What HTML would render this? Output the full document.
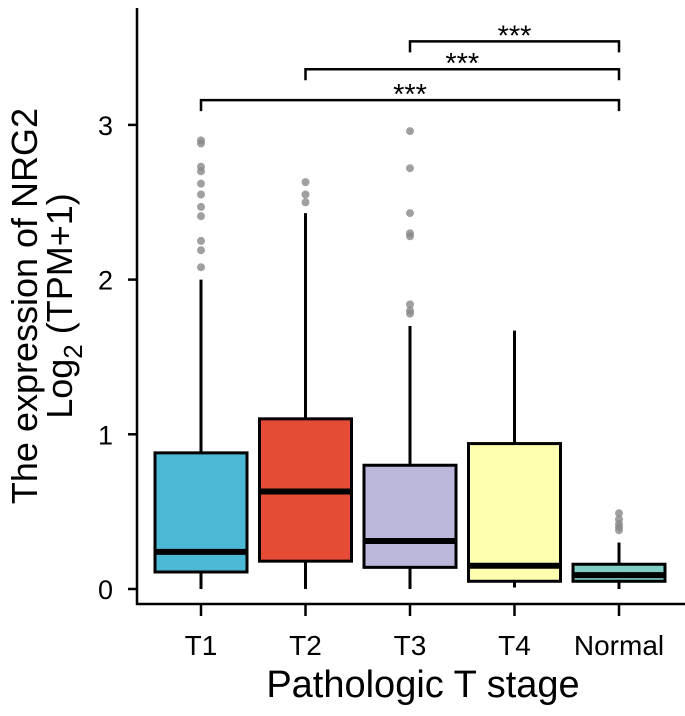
<!DOCTYPE html>
<html><head><meta charset="utf-8"><style>
html,body{margin:0;padding:0;background:#fff;}
svg text{font-family:"Liberation Sans",Arial,sans-serif;}
</style></head><body>
<svg id="chart" width="685" height="711" xmlns="http://www.w3.org/2000/svg"></svg>
<script>
const categories=["T1","T2","T3","T4","Normal"];
const colors=["#4BB8D6","#E64B35","#BBB8DB","#FFFFB0","#7FCDC4"];
const q1=[0.11,0.18,0.14,0.05,0.05];
const medians=[0.24,0.63,0.31,0.15,0.09];
const q3=[0.88,1.10,0.80,0.94,0.16];
const whiskLo=[0,0,0,0.01,0];
const whiskHi=[2.0,2.43,1.70,1.67,0.30];
const outliers=[[2.90,2.88,2.73,2.70,2.62,2.55,2.47,2.41,2.25,2.19,2.08],[2.63,2.55,2.50],[2.96,2.72,2.43,2.30,2.28,1.84,1.80,1.78],[],[0.49,0.45,0.42,0.40,0.38]];
const yTicks=[0,1,2,3];
const brackets=[[2,4,3.54],[1,4,3.36],[0,4,3.16]];
const svg=document.getElementById('chart');
const NS='http://www.w3.org/2000/svg';
function y(v){return 589-v*154.7;}
function x(i){return 201+i*104.5;}
function mk(t,a,p){const e=document.createElementNS(NS,t);for(const k in a)e.setAttribute(k,a[k]);(p||svg).appendChild(e);return e;}
let ax=mk('line',{x1:137,y1:8,x2:137,y2:605,stroke:'#000','stroke-width':2.5});


ax=mk('line',{x1:136,y1:604,x2:685,y2:604,stroke:'#000','stroke-width':2.5});


yTicks.forEach(v=>{
 mk('line',{x1:128,y1:y(v),x2:137,y2:y(v),stroke:'#000','stroke-width':2.5});
 const t=mk('text',{x:113,y:y(v)+10,'font-size':27,'text-anchor':'end'});t.textContent=v;
 
 
});
categories.forEach((c,i)=>{
 const cx=x(i);
 mk('line',{x1:cx,y1:604,x2:cx,y2:616,stroke:'#000','stroke-width':2.5});
 const t=mk('text',{x:cx,y:655,'font-size':28,'text-anchor':'middle'});t.textContent=c;
 
 
 const g=mk('g',{});
 
 
 mk('line',{x1:cx,y1:y(whiskLo[i]),x2:cx,y2:y(whiskHi[i]),stroke:'#000','stroke-width':3},g);
 mk('rect',{x:cx-46,y:y(q3[i]),width:92,height:y(q1[i])-y(q3[i]),fill:colors[i],stroke:'#000','stroke-width':3},g);
 mk('line',{x1:cx-46,y1:y(medians[i]),x2:cx+46,y2:y(medians[i]),stroke:'#000','stroke-width':6},g);
 outliers[i].forEach(o=>{const d=mk('circle',{cx:cx,cy:y(o),r:4,fill:'#888','fill-opacity':0.8},g);
 
 });
});
brackets.forEach(b=>{
 const yy=y(b[2]);const g=mk('g',{});
 
 
 mk('path',{d:`M${x(b[0])},${yy+11}V${yy}H${x(b[1])}V${yy+11}`,fill:'none',stroke:'#000','stroke-width':2.5},g);
 const t=mk('text',{x:(x(b[0])+x(b[1]))/2,y:yy+4,'font-size':29,'text-anchor':'middle'},g);t.textContent='***';
});
let t=mk('text',{x:423,y:697,'font-size':38,'text-anchor':'middle'});t.textContent='Pathologic T stage';


const yt=mk('g',{});


let a=mk('text',{x:-306,y:37,'font-size':36,'text-anchor':'middle',transform:'rotate(-90)'},yt);a.textContent='The expression of NRG2';
a=mk('text',{x:-306,y:72,'font-size':36,'text-anchor':'middle',transform:'rotate(-90)'},yt);
a.innerHTML='Log<tspan font-size="26" dy="10">2</tspan><tspan dy="-10"> (TPM+1)</tspan>';
</script>
</body></html>
